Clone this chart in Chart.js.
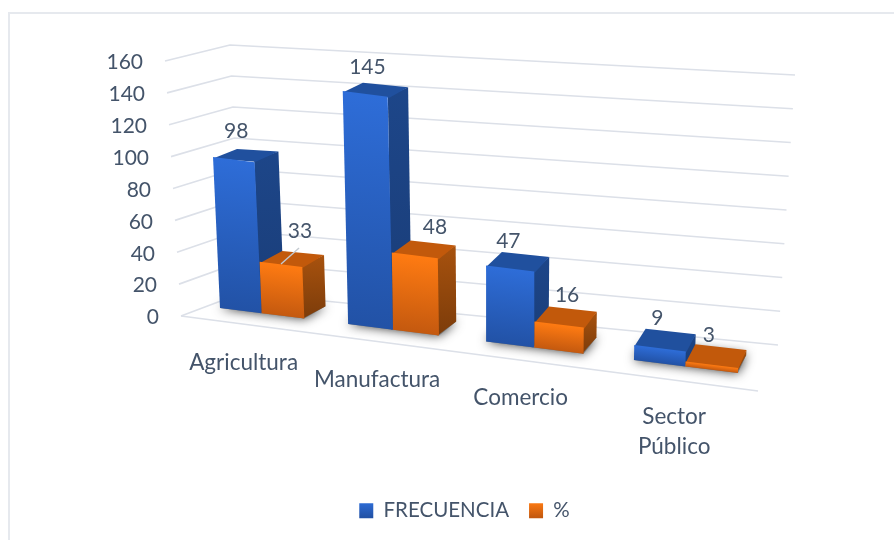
<!DOCTYPE html>
<html>
<head>
<meta charset="utf-8">
<style>html,body{margin:0;padding:0;background:#fff}canvas{display:block}</style>
<script src="https://cdn.jsdelivr.net/npm/chart.js@4/dist/chart.umd.js"></script>
</head>
<body>
<canvas id="c" width="894" height="540"></canvas>
<script>
const categories = ["Agricultura", "Manufactura", "Comercio", ["Sector", "Público"]];
const frecuencia = [98, 145, 47, 9];
const porcentaje = [33, 48, 16, 3];
const seriesNames = ["FRECUENCIA", "%"];

const TEXT = "#44546A", GRID = "#DCE0E8", FONT = "Lato";
const FACES = [
  { front: ["#2E6DD8", "#2252A6"], top: "#20509E", side: ["#1D4689", "#1A3D78"] },
  { front: ["#FF7B12", "#C4590F"], top: "#C2590B", side: ["#A8520E", "#7C3C0A"] }
];
// nudges of the value labels relative to the top of each bar (style only)
const LABEL_NUDGE = [
  [[2, -27], [1.5, -26.5], [-2, -27], [-2.5, -30]],
  [[19, -33], [20, -28], [8, -29], [-3, -29]]
];
// vertical scale of the perspective along the floor (screen x -> px per unit)
const H_X = [220, 348, 486, 738], H_V = [1.54, 1.607, 1.617, 1.675];
function heightScale(x) {
  let i = 0;
  while (i < H_X.length - 2 && x > H_X[i + 1]) i++;
  return H_V[i] + (H_V[i + 1] - H_V[i]) * (x - H_X[i]) / (H_X[i + 1] - H_X[i]);
}

let active = null;
// Perspective: flat chart pixel + depth (0 front, 1 back) -> screen point
function project(px, py, d) {
  const xs = active.scales.x, ys = active.scales.y;
  const step = xs.getPixelForValue(1) - xs.getPixelForValue(0);
  const u = 3 * (px - xs.getPixelForValue(0)) / step + 1;
  const v = ys.getValueForPixel(py);
  const xb = 220 + 41.06 * u + 0.548 * u * u;
  const yb = 308 + 0.1255 * (xb - 220);
  const x = xb + v * (xb - 486) * 0.000268;
  const y = yb - v * heightScale(xb);
  const dx = (24 - 0.03 * (x - 213)) * d;
  const dy = -(11 + 0.0135 * (x - 213) - 0.03 * v) * d;
  return [x + dx, y + dy];
}
function poly(ctx, pts, fill) {
  ctx.beginPath();
  pts.forEach((p, i) => i ? ctx.lineTo(p[0], p[1]) : ctx.moveTo(p[0], p[1]));
  ctx.closePath();
  ctx.fillStyle = fill;
  ctx.fill();
}
function vgrad(ctx, y0, y1, cols) {
  const g = ctx.createLinearGradient(0, y0, 0, y1);
  g.addColorStop(0, cols[0]); g.addColorStop(1, cols[1]);
  return g;
}

// Library bars: front face is the native rectangle under a per-bar affine map
const barDraw = Chart.BarElement.prototype.draw;
Chart.BarElement.prototype.draw = function (ctx) {
  const { x, y, base, width } = this.getProps(["x", "y", "base", "width"], true);
  const L = x - width / 2, R = x + width / 2, T = y, B = base;
  const f = FACES[this.seriesIndex];
  const rb0 = project(R, B, 0), rt0 = project(R, T, 0), rt1 = project(R, T, 1), rb1 = project(R, B, 1);
  const lt0 = project(L, T, 0), lt1 = project(L, T, 1), lb0 = project(L, B, 0);
  // side and top run a little under the front face so that no seam shows
  poly(ctx, [[rt0[0] - 1.5, rt0[1]], rt1, rb1, [rb0[0] - 1.5, rb0[1]]], vgrad(ctx, rt1[1], rb0[1], f.side));
  poly(ctx, [[lt0[0], lt0[1] + 1.5], [rt0[0], rt0[1] + 1.5], rt1, lt1], f.top);
  const a = (rb0[0] - lb0[0]) / (R - L), b = (rb0[1] - lb0[1]) / (R - L);
  const c = (lt0[0] - lb0[0]) / (T - B), d = (lt0[1] - lb0[1]) / (T - B);
  ctx.save();
  ctx.transform(a, b, c, d, lb0[0] - a * L - c * B, lb0[1] - b * L - d * B);
  barDraw.call(this, ctx);
  ctx.restore();
};

const scene = {
  id: "scene",
  afterDatasetsUpdate(chart) {
    chart.data.datasets.forEach((ds, i) => chart.getDatasetMeta(i).data.forEach(el => el.seriesIndex = i));
  },
  beforeDraw(chart) {
    active = chart;
    const ctx = chart.ctx, xs = chart.scales.x, ys = chart.scales.y;
    // frame
    ctx.save();
    ctx.strokeStyle = "#E6E9EE"; ctx.lineWidth = 2;
    ctx.beginPath(); ctx.moveTo(9, 540); ctx.lineTo(9, 13); ctx.lineTo(894, 13); ctx.stroke();
    ctx.restore();
    // axis labels keep the library's text drawing but sit on the projected floor and wall
    xs._labelItems = xs._computeLabelItems(chart.chartArea).map((it, i) => {
      const p = project(xs.getPixelForValue(i), ys.getPixelForValue(0), 0);
      it.options.translation = [p[0] - 18 + (p[0] - 262) * 0.016, p[1] + 50 - it.textOffset];
      return it;
    });
    ys._labelItems = ys._computeLabelItems(chart.chartArea).map((it, i) => {
      const t = ys.ticks[i].value / ys.max;
      it.options.translation = [159 - 16 * t, 317.5 - 255 * t - it.textOffset];
      return it;
    });
  },
  beforeDatasetsDraw(chart) {
    const ctx = chart.ctx, ys = chart.scales.y;
    const lerp = (a, b, t) => [a[0] + (b[0] - a[0]) * t, a[1] + (b[1] - a[1]) * t];
    ctx.save();
    ctx.strokeStyle = GRID; ctx.lineWidth = 1.6; ctx.lineJoin = "round";
    ys.ticks.forEach(tk => {
      const t = tk.value / ys.max;
      const l = lerp([181, 316], [165, 61], t), c = lerp([242, 293], [230, 45], t), r = lerp([778, 345], [795, 75], t);
      ctx.beginPath(); ctx.moveTo(l[0], l[1]); ctx.lineTo(c[0], c[1]); ctx.lineTo(r[0], r[1]); ctx.stroke();
    });
    ctx.beginPath(); ctx.moveTo(181, 316); ctx.lineTo(758, 391); ctx.stroke();
    // soft shadows on the floor, under each pair of bars
    const m0 = chart.getDatasetMeta(0).data, m1 = chart.getDatasetMeta(1).data;
    m0.forEach((el, i) => {
      const L = el.x - el.width / 2, e2 = m1[i], R = e2.x + e2.width / 2, B = el.base;
      ctx.save();
      ctx.shadowColor = "rgba(0,0,0,0.8)"; ctx.shadowBlur = 11; ctx.shadowOffsetX = 0; ctx.shadowOffsetY = 0;
      poly(ctx, [project(L, B, 0), project(R, B, 0), project(R, B, 1), project(L, B, 1)], "#777");
      ctx.restore();
    });
    ctx.restore();
  },
  // the orange series stands in front of the blue one: paint it last
  beforeDatasetDraw(chart, args) {
    if (args.index === 1) return false;
  },
  afterDatasetDraw(chart, args) {
    if (args.index === 0) chart.getDatasetMeta(1).controller.draw();
  },
  afterDatasetsDraw(chart) {
    const ctx = chart.ctx;
    ctx.save();
    // leader line of the value 33
    const e = chart.getDatasetMeta(1).data[0];
    const s = project(e.x, e.y, 0);
    ctx.strokeStyle = "#C3C9D0"; ctx.lineWidth = 1.4;
    ctx.beginPath(); ctx.moveTo(s[0], s[1]); ctx.lineTo(s[0] + 18, s[1] - 16); ctx.stroke();
    // value labels
    ctx.fillStyle = TEXT; ctx.font = "21px " + FONT; ctx.textAlign = "center"; ctx.textBaseline = "middle";
    chart.data.datasets.forEach((ds, i) => chart.getDatasetMeta(i).data.forEach((el, j) => {
      const p = project(el.x, el.y, 0), n = LABEL_NUDGE[i][j];
      ctx.fillText(String(ds.data[j]), p[0] + n[0], p[1] + n[1]);
    }));
    ctx.restore();
  }
};

function frontGradient(i) {
  return c => {
    const ys = c.chart.scales.y;
    if (!ys || !c.parsed) return FACES[i].front[0];
    const y0 = ys.getPixelForValue(c.parsed.y), y1 = ys.getPixelForValue(0);
    if (!isFinite(y0) || !isFinite(y1)) return FACES[i].front[0];
    return vgrad(c.chart.ctx, y0, y1, FACES[i].front);
  };
}

new Chart(document.getElementById("c"), {
  type: "bar",
  data: {
    labels: categories,
    datasets: [
      { label: seriesNames[0], data: frecuencia, backgroundColor: frontGradient(0), clip: false },
      { label: seriesNames[1], data: porcentaje, backgroundColor: frontGradient(1), clip: false }
    ]
  },
  plugins: [scene],
  options: {
    responsive: false,
    animation: false,
    devicePixelRatio: 1,
    layout: { padding: { left: 35, top: 61, right: 0, bottom: 9 } },
    datasets: { bar: { barPercentage: 1, categoryPercentage: 2 / 3 } },
    scales: {
      x: {
        grid: { display: false }, border: { display: false },
        afterFit: s => { s.height = 155; },
        ticks: { color: TEXT, maxRotation: 0, autoSkip: false, font: { family: FONT, size: 22.5, lineHeight: 1.33 } }
      },
      y: {
        min: 0, max: 160,
        grid: { display: false }, border: { display: false },
        afterFit: s => { s.width = 126; },
        ticks: { stepSize: 20, color: TEXT, font: { family: FONT, size: 21 } }
      }
    },
    plugins: {
      tooltip: { enabled: false },
      legend: {
        position: "bottom",
        labels: {
          color: TEXT, boxWidth: 14, boxHeight: 15, padding: 20,
          font: { family: FONT, size: 20.5 },
          generateLabels(chart) {
            const items = Chart.defaults.plugins.legend.labels.generateLabels(chart);
            items.forEach((it, i) => { it.fillStyle = vgrad(chart.ctx, 502, 517, FACES[i].front); it.lineWidth = 0; });
            return items;
          }
        }
      }
    }
  }
});
</script>
</body>
</html>
